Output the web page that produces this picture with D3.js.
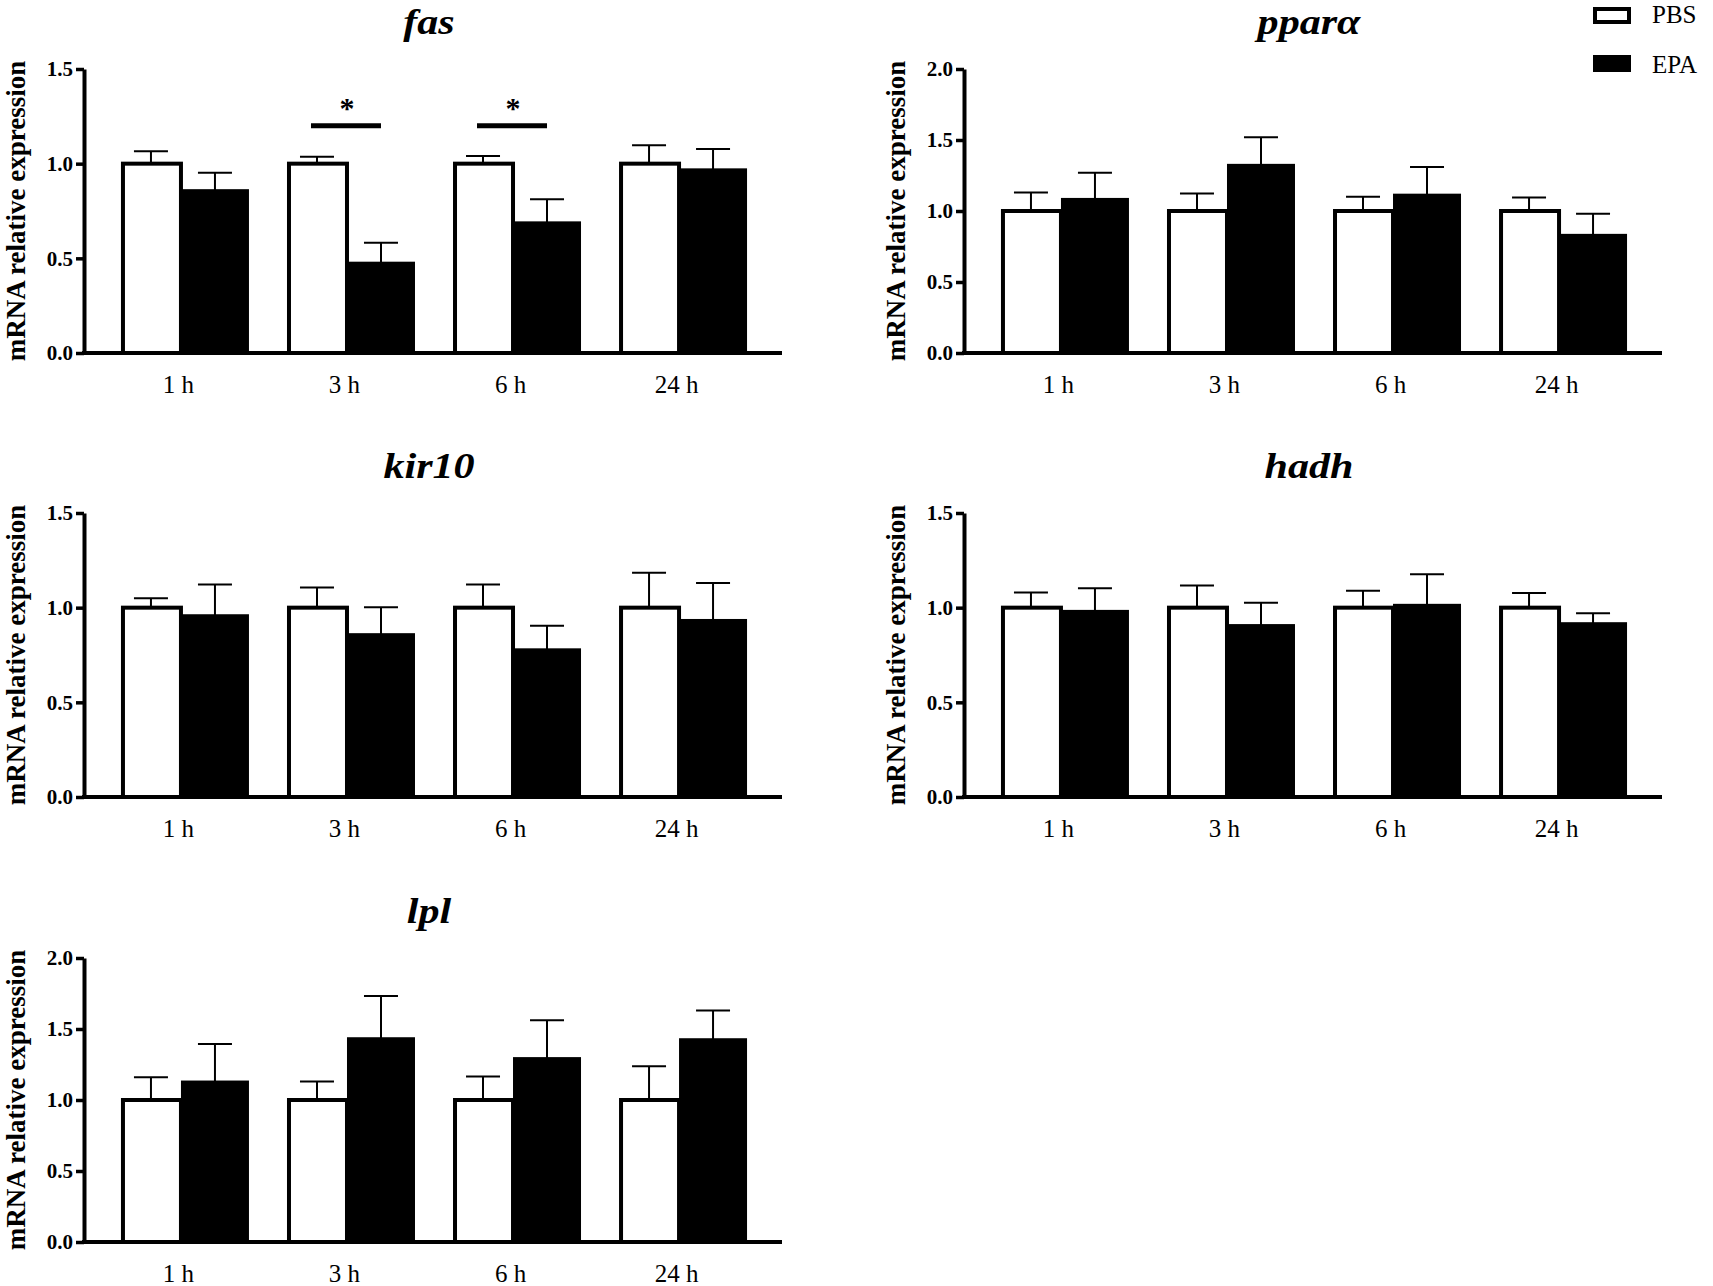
<!DOCTYPE html>
<html>
<head>
<meta charset="utf-8">
<script src="https://cdn.jsdelivr.net/npm/d3@7"></script>
<style>
  body { margin: 0; background: #fff; }
  svg { display: block; }
</style>
</head>
<body>
<svg id="chart" width="1713" height="1286"></svg>
<script>
// time points on every x axis
const timepoints = ["1 h", "3 h", "6 h", "24 h"];
const genes = ["fas", "pparα", "kir10", "hadh", "lpl"];
const yMaxes = [1.5, 2.0, 1.5, 1.5, 2.0];
const groups = ["PBS", "EPA"];

// mean and SEM (PBS is the 1.0 reference)
const fasPBS = [1.0, 1.0, 1.0, 1.0];
const fasPBSerr = [0.065, 0.037, 0.04, 0.097];
const fasEPA = [0.86, 0.477, 0.69, 0.97];
const fasEPAerr = [0.092, 0.105, 0.122, 0.108];

const pparaPBS = [1.0, 1.0, 1.0, 1.0];
const pparaPBSerr = [0.13, 0.123, 0.10, 0.095];
const pparaEPA = [1.085, 1.325, 1.115, 0.832];
const pparaEPAerr = [0.185, 0.195, 0.195, 0.148];

const kir10PBS = [1.0, 1.0, 1.0, 1.0];
const kir10PBSerr = [0.05, 0.107, 0.123, 0.185];
const kir10EPA = [0.96, 0.86, 0.78, 0.935];
const kir10EPAerr = [0.162, 0.142, 0.124, 0.195];

const hadhPBS = [1.0, 1.0, 1.0, 1.0];
const hadhPBSerr = [0.08, 0.117, 0.09, 0.078];
const hadhEPA = [0.983, 0.908, 1.015, 0.918];
const hadhEPAerr = [0.12, 0.118, 0.162, 0.052];

const lplPBS = [1.0, 1.0, 1.0, 1.0];
const lplPBSerr = [0.16, 0.13, 0.165, 0.238];
const lplEPA = [1.13, 1.435, 1.295, 1.428];
const lplEPAerr = [0.265, 0.298, 0.267, 0.202];

// significant PBS vs EPA differences (fas only)
const fasSignificant = ["3 h", "6 h"];
const sigLevel = 1.2;

const panels = [
  { pbs: fasPBS, pbsErr: fasPBSerr, epa: fasEPA, epaErr: fasEPAerr, sig: fasSignificant },
  { pbs: pparaPBS, pbsErr: pparaPBSerr, epa: pparaEPA, epaErr: pparaEPAerr, sig: [] },
  { pbs: kir10PBS, pbsErr: kir10PBSerr, epa: kir10EPA, epaErr: kir10EPAerr, sig: [] },
  { pbs: hadhPBS, pbsErr: hadhPBSerr, epa: hadhEPA, epaErr: hadhEPAerr, sig: [] },
  { pbs: lplPBS, pbsErr: lplPBSerr, epa: lplEPA, epaErr: lplEPAerr, sig: [] }
];

const svg = d3.select("#chart");
const serif = "'Liberation Serif', 'Times New Roman', serif";

const plotW = 698, plotH = 284;
const colX = [84, 964];
const rowY = [69, 513, 958];
const pbsW = 60, epaW = 68;

panels.forEach((p, i) => {
  const x0 = colX[i % 2];
  const y0 = rowY[Math.floor(i / 2)];
  const g = svg.append("g").attr("transform", `translate(${x0},${y0})`);

  // x(t) is the boundary between the PBS and EPA bar of a time point
  const x = d3.scalePoint().domain(timepoints).range([0, plotW - 6]).padding(0.584);
  const y = d3.scaleLinear().domain([0, yMaxes[i]]).range([plotH, 0]);

  const rows = timepoints.map((t, k) => ({
    t: t,
    pbs: p.pbs[k], pbsErr: p.pbsErr[k],
    epa: p.epa[k], epaErr: p.epaErr[k]
  }));

  // error bars (upper only) drawn first so bars cover their base
  const errs = [];
  rows.forEach(r => {
    errs.push({ cx: x(r.t) - pbsW / 2, v: r.pbs, e: r.pbsErr });
    errs.push({ cx: x(r.t) + epaW / 2, v: r.epa, e: r.epaErr });
  });
  const eg = g.selectAll(".err").data(errs).enter().append("g")
    .attr("stroke", "#000").attr("stroke-width", 2);
  eg.append("line")
    .attr("x1", d => d.cx).attr("x2", d => d.cx)
    .attr("y1", d => y(d.v)).attr("y2", d => y(d.v + d.e));
  eg.append("line")
    .attr("x1", d => d.cx - 17).attr("x2", d => d.cx + 17)
    .attr("y1", d => y(d.v + d.e)).attr("y2", d => y(d.v + d.e));

  // PBS: open bars with a heavy outline
  g.selectAll(".pbs").data(rows).enter().append("rect")
    .attr("x", d => x(d.t) - pbsW + 2)
    .attr("width", pbsW - 2)
    .attr("y", d => y(d.pbs))
    .attr("height", d => plotH - y(d.pbs))
    .attr("fill", "#fff")
    .attr("stroke", "#000")
    .attr("stroke-width", 4);

  // EPA: solid black bars
  g.selectAll(".epa").data(rows).enter().append("rect")
    .attr("x", d => x(d.t))
    .attr("width", epaW)
    .attr("y", d => y(d.epa) - 1)
    .attr("height", d => plotH - y(d.epa) + 1)
    .attr("fill", "#000");

  // significance markers
  p.sig.forEach(t => {
    g.append("line")
      .attr("x1", x(t) - 36).attr("x2", x(t) + 34)
      .attr("y1", y(sigLevel)).attr("y2", y(sigLevel))
      .attr("stroke", "#000").attr("stroke-width", 5);
    g.append("text")
      .attr("x", x(t)).attr("y", y(sigLevel) - 8)
      .attr("text-anchor", "middle")
      .style("font-family", serif).style("font-weight", "bold")
      .style("font-size", "30px")
      .text("*");
  });

  // y axis
  const yAxis = g.append("g")
    .call(d3.axisLeft(y).tickValues(d3.range(0, yMaxes[i] + 0.01, 0.5))
      .tickFormat(d3.format(".1f")).tickSize(8).tickSizeOuter(0).tickPadding(3));
  yAxis.select(".domain").attr("stroke-width", 4);
  yAxis.selectAll(".tick line").attr("stroke-width", 3.5);
  yAxis.selectAll(".tick text")
    .style("font-family", serif).style("font-weight", "bold")
    .style("font-size", "21px").attr("fill", "#000");

  // x axis
  const xAxis = g.append("g").attr("transform", `translate(0,${plotH})`)
    .call(d3.axisBottom(x).tickSize(0).tickSizeOuter(0).tickPadding(22));
  xAxis.select(".domain").attr("stroke-width", 4).attr("d", `M-2,0H${plotW}`);
  xAxis.selectAll(".tick text")
    .attr("dx", -3)
    .style("font-family", serif).style("font-size", "25px").attr("fill", "#000");

  // panel title (the source font is set wide, hence the horizontal stretch)
  g.append("text")
    .attr("transform", `translate(${plotW / 2 - 4},-35) scale(1.17,1)`)
    .attr("text-anchor", "middle")
    .style("font-family", serif).style("font-weight", "bold")
    .style("font-style", "italic").style("font-size", "36px")
    .text(genes[i]);

  // y axis title
  g.append("text")
    .attr("transform", `translate(-59,${plotH / 2}) rotate(-90)`)
    .attr("text-anchor", "middle")
    .style("font-family", serif).style("font-weight", "bold")
    .style("font-size", "27px")
    .text("mRNA relative expression");
});

// legend
const legend = svg.append("g").attr("transform", "translate(1593,0)");
groups.forEach((name, k) => {
  const ly = k * 48;
  legend.append("rect")
    .attr("x", 2).attr("y", 9 + ly).attr("width", 34).attr("height", 13)
    .attr("fill", k === 0 ? "#fff" : "#000")
    .attr("stroke", "#000").attr("stroke-width", 4);
  legend.append("text")
    .attr("x", 59).attr("y", 23 + ly + (k === 1 ? 2 : 0))
    .style("font-family", serif).style("font-size", "25px")
    .text(name);
});
</script>
</body>
</html>
